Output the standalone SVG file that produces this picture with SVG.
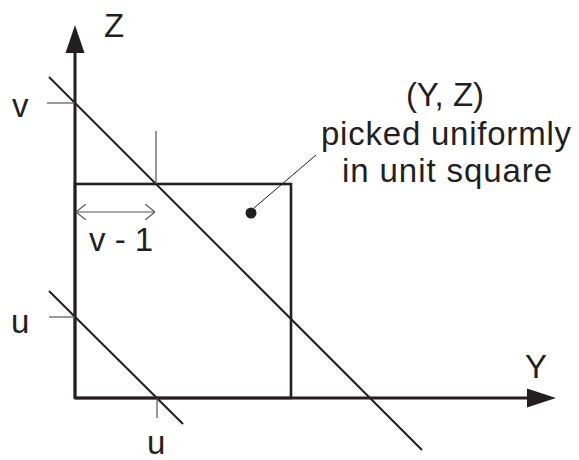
<svg xmlns="http://www.w3.org/2000/svg" width="579" height="460" viewBox="0 0 579 460">
<style>
text{font-family:"Liberation Sans",Arial,sans-serif;font-size:33px;fill:#231f20}
.axis{stroke:#231f20;stroke-width:3;fill:none}
.sq{stroke:#231f20;stroke-width:2.6;fill:none}
.diag{stroke:#231f20;stroke-width:2;fill:none}
.tick{stroke:#555;stroke-width:1.2;fill:none}
.lead{stroke:#231f20;stroke-width:1;fill:none}
</style>
<defs>
<marker id="open" viewBox="0 0 10 16" refX="10" refY="8" markerWidth="10" markerHeight="16" markerUnits="userSpaceOnUse" orient="auto-start-reverse">
<path d="M0,0 L10,8 L0,16" fill="none" stroke="#555" stroke-width="1.2"/>
</marker>
</defs>
<g id="square"><rect class="sq" x="75" y="184" width="216" height="214"/></g>
<g id="axes">
<line class="axis" x1="75" y1="398" x2="75" y2="50"/>
<polygon points="75,25 65.5,53 84.5,53" fill="#231f20"/>
<line class="axis" x1="75" y1="398" x2="530" y2="398"/>
<polygon points="556,398 527,388.5 527,407.5" fill="#231f20"/>
<text x="104" y="37">Z</text>
<text x="525" y="378">Y</text>
</g>
<g id="connectors">
<line class="diag" x1="49" y1="77" x2="422" y2="450"/>
<line class="diag" x1="49" y1="291" x2="183" y2="424"/>
<line class="tick" x1="47" y1="103" x2="75" y2="103"/>
<line class="tick" x1="156" y1="131" x2="156" y2="184"/>
<line class="tick" x1="76" y1="212" x2="155" y2="212" marker-start="url(#open)" marker-end="url(#open)"/>
<line class="tick" x1="49" y1="317" x2="75" y2="317"/>
<line class="tick" x1="157" y1="398" x2="157" y2="418"/>
<line class="lead" x1="254" y1="208" x2="316" y2="155"/>
</g>
<g id="labels">
<text x="12" y="117">v</text>
<text x="89" y="251">v - 1</text>
<text x="11" y="333">u</text>
<text x="147" y="454">u</text>
</g>
<g id="point">
<circle cx="251" cy="213" r="5.5" fill="#231f20"/>
<text x="445" y="106" text-anchor="middle">(Y, Z)</text>
<text x="446" y="145" text-anchor="middle" textLength="250" lengthAdjust="spacing">picked uniformly</text>
<text x="447" y="182" text-anchor="middle" textLength="210" lengthAdjust="spacing">in unit square</text>
</g>
</svg>
